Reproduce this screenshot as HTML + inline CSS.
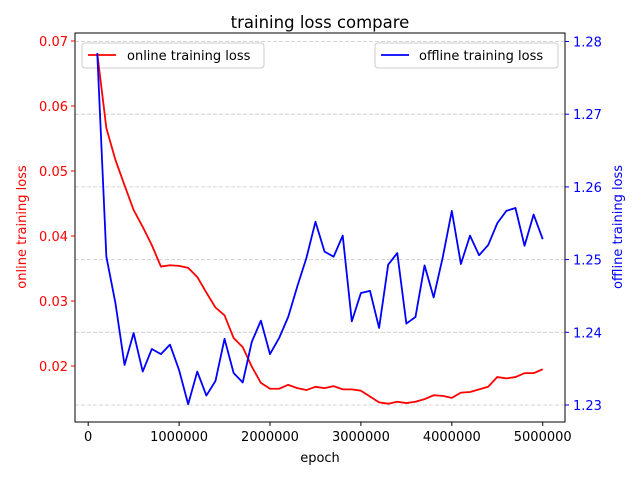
<!DOCTYPE html>
<html><head><meta charset="utf-8"><style>
body{margin:0;background:#fff}
svg{display:block;font-family:"DejaVu Sans","Liberation Sans",sans-serif}
</style></head><body>
<svg id="chart" width="640" height="480">
<rect width="640" height="480" fill="#fff"/>
<text x="320" y="28" font-size="16.5" text-anchor="middle">training loss compare</text>
<g id="grid"></g>
<g>
<rect x="82" y="43" width="182" height="25" rx="3" fill="#fff" fill-opacity="0.8" stroke="#ccc"/>
<line x1="88" y1="55" x2="116" y2="55" stroke="red" stroke-width="1.8"/>
<text x="127" y="60" font-size="13">online training loss</text>
</g>
<g>
<rect x="375" y="43" width="183" height="25" rx="3" fill="#fff" fill-opacity="0.8" stroke="#ccc"/>
<line x1="381" y1="55" x2="409" y2="55" stroke="blue" stroke-width="1.8"/>
<text x="419" y="60" font-size="13">offline training loss</text>
</g>
<g id="lines"></g>
<rect x="75" y="33" width="490" height="389" fill="none" stroke="#000" stroke-width="1"/>
<g id="axes"></g>
<text x="320" y="462" font-size="13" text-anchor="middle">epoch</text>
<text transform="translate(26,227) rotate(-90)" font-size="13" fill="red" text-anchor="middle">online training loss</text>
<text transform="translate(622,227) rotate(-90)" font-size="13" fill="blue" text-anchor="middle">offline training loss</text>
</svg>
<script>
const epochs = [];
for (let i = 1; i <= 50; i++) epochs.push(i * 100000);
const onlineLoss = [0.0681,0.0566,0.0517,0.0478,0.0440,0.0414,0.0386,0.0353,0.0355,0.0354,
0.0351,0.0337,0.0313,0.0290,0.0278,0.0243,0.0229,0.0199,0.0174,0.0165,
0.0165,0.0171,0.0166,0.0163,0.0168,0.0166,0.0169,0.0164,0.0164,0.0162,
0.0153,0.0144,0.0142,0.0145,0.0143,0.0145,0.0149,0.0155,0.0154,0.0151,
0.0159,0.0160,0.0164,0.0168,0.0183,0.0181,0.0183,0.0189,0.0189,0.0195];
const offlineLoss = [1.2784,1.2504,1.2440,1.2355,1.2399,1.2346,1.2377,1.2370,1.2383,1.2348,
1.2301,1.2346,1.2313,1.2333,1.2391,1.2344,1.2331,1.2387,1.2416,1.2370,
1.2392,1.2421,1.2463,1.2502,1.2552,1.2511,1.2504,1.2533,1.2415,1.2454,
1.2457,1.2406,1.2493,1.2509,1.2412,1.2421,1.2492,1.2448,1.2503,1.2567,
1.2494,1.2533,1.2506,1.2520,1.2550,1.2567,1.2571,1.2519,1.2562,1.2528];
const xTicks = [0,1000000,2000000,3000000,4000000,5000000];
const leftTicks = [0.02,0.03,0.04,0.05,0.06,0.07];
const rightTicks = [1.23,1.24,1.25,1.26,1.27,1.28];

const L=75,R=565,T=33,B=422;
const xMin=-145000,xMax=5245000;
const sx=v=>L+(v-xMin)/(xMax-xMin)*(R-L);
const syL=v=>366-(v-0.02)*6500;
const syR=v=>405-(v-1.23)*7270;
const NS="http://www.w3.org/2000/svg";
function mk(tag,attrs,parent){const e=document.createElementNS(NS,tag);for(const k in attrs)e.setAttribute(k,attrs[k]);parent.appendChild(e);return e;}
const grid=document.getElementById('grid'),axes=document.getElementById('axes'),lines=document.getElementById('lines');
rightTicks.forEach(t=>{const y=syR(t);
 const g=mk('line',{x1:L,x2:R,y1:y,y2:y,stroke:'#b0b0b0','stroke-dasharray':'4,2','stroke-width':0.8,'stroke-opacity':0.7},grid);
 
 
 const tk=mk('line',{x1:R,x2:R+4,y1:y,y2:y,stroke:'blue'},axes);
 
 
 const tx=mk('text',{x:R+8,y:y+5,'font-size':13,fill:'blue'},axes);tx.textContent=t.toFixed(2);
 
 
});
leftTicks.forEach(t=>{const y=syL(t);
 const tk=mk('line',{x1:L-4,x2:L,y1:y,y2:y,stroke:'red'},axes);
 
 
 const tx=mk('text',{x:L-7,y:y+5,'font-size':13,fill:'red','text-anchor':'end'},axes);tx.textContent=t.toFixed(2);
 
 
});
xTicks.forEach(t=>{const x=sx(t);
 const tk=mk('line',{x1:x,x2:x,y1:B,y2:B+4,stroke:'#000'},axes);
 
 
 const tx=mk('text',{x:x,y:B+19,'font-size':13,'text-anchor':'middle'},axes);tx.textContent=String(t);
 
 
});
const p1=mk('polyline',{points:epochs.map((e,i)=>sx(e)+','+syL(onlineLoss[i])).join(' '),fill:'none',stroke:'red','stroke-width':1.8,'stroke-linejoin':'round'},lines);


const p2=mk('polyline',{points:epochs.map((e,i)=>sx(e)+','+syR(offlineLoss[i])).join(' '),fill:'none',stroke:'blue','stroke-width':1.8,'stroke-linejoin':'round'},lines);


</script>
</body></html>
